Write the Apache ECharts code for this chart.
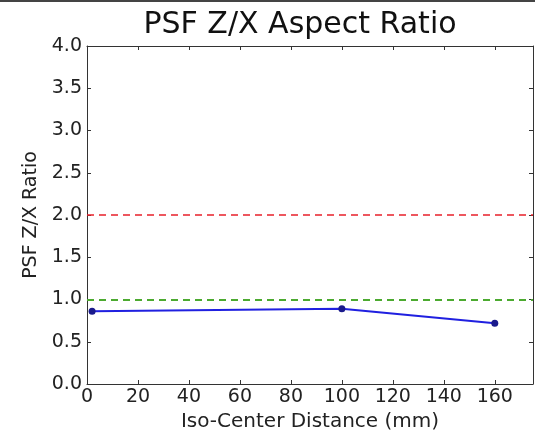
<!DOCTYPE html>
<html>
<head>
<meta charset="utf-8">
<script src="https://cdn.jsdelivr.net/npm/echarts@6/dist/echarts.min.js"></script>
<style>
html,body{margin:0;padding:0;background:#fff;}
#c{width:535px;height:432px;}
</style>
</head>
<body>
<div id="c"></div>
<script>
const distances = [2, 100, 160];
const ratios = [0.86, 0.89, 0.72];
const redLimit = 2.0;
const greenLimit = 1.0;
const titleText = 'PSF Z/X Aspect Ratio';
const xName = 'Iso-Center Distance (mm)';
const yName = 'PSF Z/X Ratio';

const font = 'DejaVu Sans';
const chart = echarts.init(document.getElementById('c'), null, {renderer: 'canvas'});
const axisLine = {show: true, onZero: false, lineStyle: {color: '#333', width: 1}};
const tick = {show: true, inside: true, length: 4, lineStyle: {color: '#333'}};
chart.setOption({
  animation: false,
  backgroundColor: '#fff',
  title: {
    text: titleText, left: 295, top: 5, textAlign: 'center',
    textStyle: {fontFamily: font, fontSize: 30, fontWeight: 'normal', color: '#111'}
  },
  grid: {left: 87, right: 2, top: 46, bottom: 48, containLabel: false, outerBoundsMode: 'none'},
  xAxis: [{
    type: 'value', min: 0, max: 175, interval: 20,
    name: xName, nameLocation: 'middle', nameGap: 17,
    nameTextStyle: {fontFamily: font, fontSize: 20, color: '#222', verticalAlign: 'top'},
    axisLine: axisLine, axisTick: tick, splitLine: {show: false},
    axisLabel: {fontFamily: font, fontSize: 19, color: '#222', margin: 4,
      formatter: v => (v > 160 ? '' : String(v))}
  }, {
    type: 'value', min: 0, max: 175, interval: 20, position: 'top',
    axisLine: axisLine, axisTick: tick, axisLabel: {show: false}, splitLine: {show: false}
  }],
  yAxis: [{
    type: 'value', min: 0, max: 4, interval: 0.5,
    name: yName, nameLocation: 'middle', nameGap: 38, nameRotate: 90,
    nameTextStyle: {fontFamily: font, fontSize: 19, color: '#222'},
    axisLine: axisLine, axisTick: tick, splitLine: {show: false},
    axisLabel: {fontFamily: font, fontSize: 19, color: '#222', margin: 5,
      formatter: v => v.toFixed(1)}
  }, {
    type: 'value', min: 0, max: 4, interval: 0.5, position: 'right',
    axisLine: axisLine, axisTick: tick, axisLabel: {show: false}, splitLine: {show: false}
  }],
  series: [{
    type: 'line',
    data: distances.map((d, i) => [d, ratios[i]]),
    symbol: 'circle', symbolSize: 7,
    itemStyle: {color: '#1a1a8c'},
    lineStyle: {color: '#2020e0', width: 2},
    markLine: {
      silent: true, symbol: 'none', label: {show: false},
      data: [
        {yAxis: redLimit, lineStyle: {color: '#e8202a', type: [7, 5], width: 1.5}},
        {yAxis: greenLimit, lineStyle: {color: '#4caa30', type: [7, 5], width: 2}}
      ]
    }
  }],
  graphic: [{
    type: 'line', shape: {x1: 0, y1: 1, x2: 535, y2: 1},
    style: {stroke: '#444', lineWidth: 2}
  }]
});
</script>
</body>
</html>
